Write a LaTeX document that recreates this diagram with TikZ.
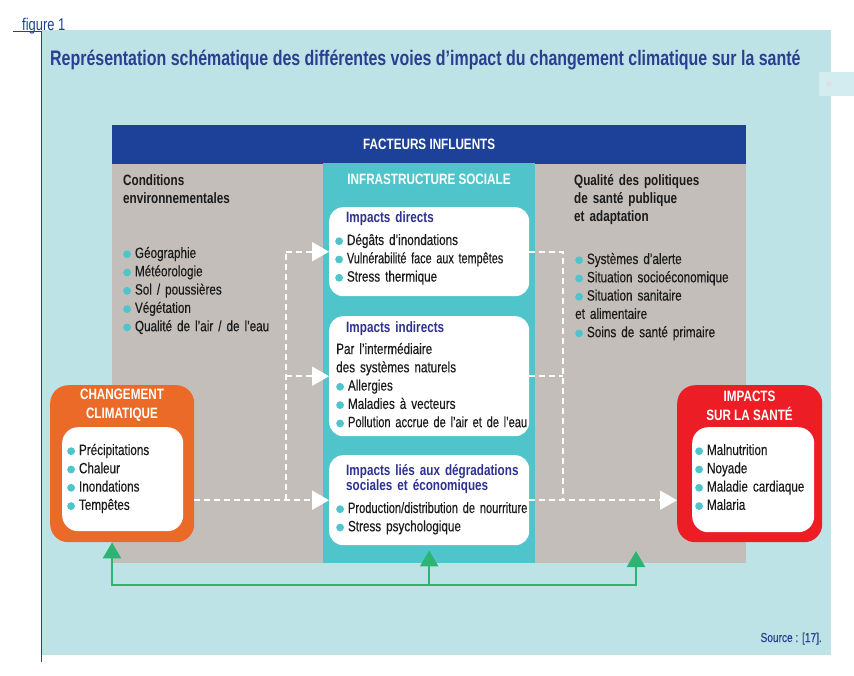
\documentclass[tikz,border=0pt]{standalone}
\usepackage{fontspec}
\setmainfont{Liberation Sans}[FakeStretch=0.78, UprightFeatures={FakeBold=0.3}]
\newfontfamily\titrefont{Liberation Sans}[FakeStretch=0.76]
\usetikzlibrary{arrows.meta}

\definecolor{fondbleu}{HTML}{BDE3E6}
\definecolor{marine}{HTML}{1D4198}
\definecolor{titrebleu}{HTML}{2A3F92}
\definecolor{indigo}{HTML}{2E3192}
\definecolor{taupe}{HTML}{C3BEBA}
\definecolor{turquoise}{HTML}{4FC4CA}
\definecolor{orangecc}{HTML}{EB6A28}
\definecolor{rougesante}{HTML}{EC1D25}
\definecolor{vertfb}{HTML}{2DB473}
\definecolor{encre}{HTML}{1A1A1A}
\definecolor{pale}{HTML}{D3ECEF}

\newcommand{\puce}{\tikz[baseline=-3.8pt]\fill[turquoise] (3.9pt,0pt) circle (3.9pt);\hspace{4pt}}
\newcommand{\serre}[2]{\scalebox{#1}[1]{#2}}

\begin{document}
\begin{tikzpicture}[x=1pt, y=-1pt,
  txt/.style={anchor=base west, inner sep=0pt, text width=230pt, align=left, text=encre, font=\fontsize{15}{18.3}\selectfont},
  titrebox/.style={txt, text=indigo, font=\fontsize{15}{15}\selectfont\bfseries},
  entete/.style={txt, font=\fontsize{15}{18}\selectfont\bfseries},
  boite/.style={fill=white, rounded corners=14pt, anchor=north west, inner sep=0pt},
  cadre/.style={rounded corners=18pt, anchor=north west, inner sep=0pt, minimum width=145pt, minimum height=157pt},
  blanc/.style={text=white, align=center, font=\fontsize{15}{19}\selectfont\bfseries},
  flux/.style={white, line width=2pt, dash pattern=on 6pt off 4pt},
  fleche/.style={flux, -{Triangle[length=17pt,width=19pt]}},
  retour/.style={vertfb, line width=2.5pt, -{Triangle[length=16pt,width=18pt]}}]
\useasboundingbox (0,0) rectangle (854,675);

% fond et titre
\fill[fondbleu] (41,30) rectangle (831,655);
\fill[pale] (819,72) rectangle (854,96);
\fill[black!12] (829,84) circle (3pt);
\draw[marine, line width=0.8pt] (13,31) -- (41,31) -- (41,662);
\node[anchor=base west, inner sep=0pt, text=marine, font=\titrefont\fontsize{17}{17}\selectfont] (fig) at (22,30) {figure 1};
\node[anchor=base west, inner sep=0pt, text=titrebleu, font=\titrefont\fontsize{21}{21}\selectfont\bfseries] (titre) at (50,65) {Représentation schématique des différentes voies d’impact du changement climatique sur la santé};

% facteurs influents
\fill[taupe] (112,163) rectangle (746,563);
\node[fill=marine, anchor=north west, inner sep=0pt, minimum width=634pt, minimum height=39pt, blanc] (facteurs) at (112,125) {FACTEURS INFLUENTS};
\node[fill=turquoise, anchor=north west, inner sep=0pt, minimum width=212pt, minimum height=400pt] (infra) at (323,163) {};
\node[blanc] (infratitre) at (429,179) {INFRASTRUCTURE SOCIALE};

\node[entete] (conditions) at (123,185) {Conditions\\environnementales};
\node[txt] (condliste) at (123,258) {\puce Géographie\\\puce Météorologie\\\puce Sol / poussières\\\puce Végétation\\\puce Qualité de l’air / de l’eau};

\node[entete] (politiques) at (574,185) {Qualité des politiques\\de santé publique\\et adaptation};
\node[txt] (polliste) at (575,264) {\puce Systèmes d’alerte\\\puce Situation socioéconomique\\\puce Situation sanitaire\\et alimentaire\\\puce Soins de santé primaire};

% les trois voies
\node[boite, minimum width=200pt, minimum height=89pt] (direct) at (329,207) {};
\node[titrebox] (directtitre) at (346,222) {Impacts directs};
\node[txt] (directliste) at (335,245) {\puce Dégâts d’inondations\\\puce \serre{0.93}{Vulnérabilité face aux tempêtes}\\\puce Stress thermique};

\node[boite, minimum width=200pt, minimum height=120pt] (indirect) at (329,316) {};
\node[titrebox] (indirecttitre) at (346,332) {Impacts indirects};
\node[txt] (indirectliste) at (336,354) {Par l’intermédiaire\\des systèmes naturels\\\puce Allergies\\\puce Maladies à vecteurs\\\puce \serre{0.95}{Pollution accrue de l’air et de l’eau}};

\node[boite, minimum width=200pt, minimum height=90pt] (degr) at (329,455) {};
\node[titrebox] (degrtitre) at (346,475) {Impacts liés aux dégradations\\sociales et économiques};
\node[txt] (degrliste) at (336,513) {\puce \serre{0.95}{Production/distribution de nourriture}\\\puce Stress psychologique};

% changement climatique
\node[cadre, fill=orangecc, minimum width=144pt] (cc) at (50,385) {};
\node[blanc] (cctitre) at (122,405.5) {CHANGEMENT\\CLIMATIQUE};
\node[boite, rounded corners=16pt, minimum width=121pt, minimum height=104pt] (cci) at (62,427) {};
\node[txt] (ccliste) at (67,455) {\puce Précipitations\\\puce Chaleur\\\puce Inondations\\\puce Tempêtes};

% impacts sur la sante
\node[cadre, fill=rougesante] (sante) at (677,385) {};
\node[blanc] (santetitre) at (749.5,405.5) {IMPACTS\\SUR LA SANTÉ};
\node[boite, rounded corners=16pt, minimum width=122pt, minimum height=105pt] (santei) at (692,427) {};
\node[txt] (santeliste) at (695,455) {\puce Malnutrition\\\puce Noyade\\\puce Maladie cardiaque\\\puce Malaria};

% fleches en pointilles
\coordinate (jg) at (286,255);
\coordinate (jd) at (563,255);
\draw[fleche] (cc.east |- degr.west) -- (degr.west);
\draw[flux] (jg |- degr.west) -- (jg |- direct.west);
\draw[fleche] (jg |- direct.west) -- (direct.west);
\draw[fleche] (jg |- indirect.west) -- (indirect.west);
\draw[flux] (direct.east) -- (jd |- direct.east) -- (jd |- degr.east);
\draw[flux] (indirect.east) -- (jd |- indirect.east);
\draw[fleche] (degr.east) -- (sante.west |- degr.east);

% retroaction
\coordinate (bg) at (112,585);
\coordinate (bd) at (636,585);
\coordinate (qualite) at (636,551);
\draw[retour] (degr.south |- bg) -- (bg) -- (bg |- cc.south);
\draw[retour] (degr.south |- bg) -- (bd) -- (qualite);
\draw[retour] (degr.south |- bg) -- ([yshift=-5pt]degr.south);

\node[anchor=base east, inner sep=0pt, text=titrebleu, font=\fontsize{13}{13}\selectfont] (source) at (822,642) {Source : [17].};
\end{tikzpicture}
\end{document}
